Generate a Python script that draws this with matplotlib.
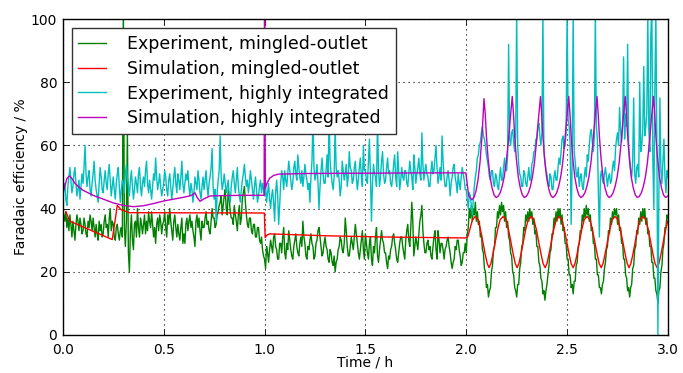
import numpy as np
import matplotlib
matplotlib.use("Agg")
import matplotlib.pyplot as plt

# experiment traces, sampled every 0.005 h from 0 to 3 h
exp_time = np.linspace(0.0, 3.0, 601)

exp_mingled = [
    40, 38, 36, 39, 34, 37, 33, 38, 35, 31, 36, 33, 30, 35, 38, 36, 33, 37, 35, 32,
    33, 37, 35, 32, 31, 36, 34, 38, 36, 33, 37, 34, 31, 35, 32, 30, 36, 33, 35, 31,
    32, 36, 38, 34, 35, 31, 37, 40, 33, 36, 35, 31, 30, 34, 35, 32, 30, 33, 34, 31,
    105, 34, 28, 36, 64, 26, 20, 33, 38, 30, 27, 35, 36, 31, 40, 34, 31, 37, 35, 32,
    35, 38, 32, 36, 33, 39, 36, 34, 39, 35, 31, 34, 29, 35, 37, 33, 38, 36, 32, 35,
    36, 39, 34, 31, 38, 35, 40, 36, 33, 30, 36, 38, 34, 31, 35, 32, 30, 34, 37, 29,
    32, 29, 35, 37, 33, 36, 38, 34, 36, 33, 31, 28, 36, 38, 34, 37, 33, 30, 36, 34,
    34, 37, 39, 35, 36, 33, 32, 36, 40, 37, 37, 34, 35, 38, 39, 41, 42, 44, 38, 41,
    44, 46, 40, 38, 46, 43, 39, 37, 37, 35, 41, 38, 36, 33, 38, 41, 35, 37, 43, 45,
    47, 42, 38, 35, 34, 37, 37, 33, 32, 35, 35, 31, 31, 34, 34, 30, 29, 31, 27, 25,
    24, 21, 28, 26, 23, 27, 30, 28, 26, 31, 32, 28, 27, 24, 24, 29, 29, 26, 31, 34,
    26, 24, 29, 27, 33, 30, 27, 25, 24, 28, 30, 32, 28, 26, 25, 29, 31, 28, 36, 31,
    29, 25, 24, 28, 27, 30, 32, 29, 28, 24, 25, 29, 30, 33, 34, 31, 28, 25, 26, 29,
    31, 28, 27, 24, 23, 27, 26, 23, 22, 25, 20, 23, 24, 27, 28, 31, 30, 27, 26, 29,
    37, 33, 28, 25, 25, 28, 31, 29, 27, 31, 35, 32, 29, 26, 24, 27, 30, 33, 27, 24,
    32, 29, 26, 24, 29, 31, 24, 22, 28, 26, 31, 34, 25, 23, 27, 30, 33, 30, 29, 26,
    26, 23, 21, 25, 24, 27, 28, 31, 32, 29, 27, 24, 23, 26, 29, 31, 31, 28, 26, 24,
    30, 33, 35, 30, 28, 34, 42, 36, 25, 28, 31, 29, 27, 32, 36, 38, 41, 33, 29, 26,
    26, 29, 30, 27, 28, 25, 24, 28, 31, 33, 27, 24, 33, 30, 26, 29, 29, 27, 24, 27,
    28, 30, 31, 28, 26, 23, 21, 23, 24, 28, 27, 30, 30, 27, 25, 22, 23, 26, 26, 29,
    26, 32, 34, 40, 37, 41, 36, 40, 38, 42, 36, 39, 35, 36, 31, 32, 27, 26, 21, 20,
    15, 16, 12, 14, 15, 20, 22, 27, 28, 34, 34, 39, 37, 41, 38, 42, 39, 41, 36, 39,
    34, 36, 31, 30, 26, 25, 20, 19, 15, 14, 12, 16, 16, 21, 23, 28, 29, 34, 33, 38,
    36, 39, 36, 40, 37, 39, 35, 37, 32, 33, 28, 28, 23, 22, 18, 17, 13, 14, 11, 14,
    16, 19, 22, 26, 27, 32, 32, 37, 35, 39, 36, 40, 37, 40, 35, 38, 33, 34, 29, 29,
    24, 24, 19, 19, 15, 16, 13, 17, 17, 22, 23, 28, 29, 33, 33, 38, 36, 40, 37, 41,
    38, 40, 36, 38, 33, 34, 29, 29, 24, 24, 19, 19, 15, 15, 13, 16, 17, 21, 23, 27,
    28, 33, 32, 37, 35, 39, 37, 40, 38, 40, 35, 38, 33, 34, 29, 29, 24, 24, 19, 18,
    14, 15, 12, 15, 16, 21, 22, 27, 28, 33, 32, 37, 35, 39, 36, 40, 37, 40, 35, 37,
    32, 33, 28, 28, 23, 23, 18, 18, 14, 13, 10, 14, 15, 20, 22, 27, 29, 34, 34, 38,
    37,
]

exp_integrated = [
    44, 46, 48, 43, 41, 47, 50, 53, 49, 45, 47, 51, 53, 48, 44, 46, 49, 43, 47, 51,
    48, 53, 60, 51, 47, 50, 52, 46, 44, 48, 51, 55, 49, 46, 44, 42, 48, 53, 50, 46,
    45, 49, 52, 48, 46, 51, 54, 49, 44, 47, 50, 46, 43, 48, 51, 53, 47, 42, 46, 49,
    48, 45, 51, 54, 50, 47, 44, 49, 52, 47, 43, 46, 50, 48, 45, 51, 53, 47, 44, 48,
    50, 47, 52, 55, 48, 45, 49, 46, 43, 47, 51, 49, 56, 50, 46, 48, 51, 47, 44, 46,
    48, 52, 50, 46, 44, 49, 51, 47, 43, 46, 50, 53, 48, 45, 51, 49, 46, 50, 55, 48,
    45, 48, 51, 49, 52, 47, 44, 48, 46, 42, 45, 50, 48, 46, 52, 49, 45, 43, 47, 50,
    46, 49, 52, 47, 44, 48, 50, 53, 59, 47, 43, 46, 36, 45, 49, 52, 63, 50, 46, 48,
    51, 48, 45, 47, 49, 44, 42, 47, 50, 52, 48, 45, 49, 53, 47, 44, 42, 46, 49, 51,
    54, 50, 47, 49, 45, 48, 52, 49, 46, 43, 47, 50, 46, 42, 44, 47, 49, 45, 48, 46,
    44, 47, 42, 45, 48, 43, 40, 44, 46, 42, 36, 45, 49, 44, 35, 41, 48, 52, 50, 46,
    52, 49, 47, 51, 55, 52, 49, 46, 48, 53, 55, 51, 49, 57, 53, 50, 48, 52, 47, 50,
    54, 51, 49, 46, 48, 42, 50, 55, 68, 53, 49, 51, 54, 48, 40, 47, 52, 56, 51, 48,
    48, 52, 57, 50, 70, 55, 51, 48, 46, 50, 66, 53, 50, 52, 49, 44, 47, 55, 52, 49,
    51, 54, 47, 50, 58, 53, 52, 48, 49, 53, 55, 50, 46, 49, 53, 56, 50, 47, 60, 52,
    52, 49, 48, 55, 62, 50, 36, 48, 54, 51, 50, 47, 68, 52, 47, 50, 55, 58, 51, 48,
    49, 53, 56, 51, 52, 48, 47, 50, 54, 57, 50, 47, 58, 52, 46, 49, 53, 50, 49, 52,
    52, 48, 47, 51, 55, 52, 50, 46, 57, 53, 48, 51, 53, 56, 51, 49, 64, 54, 49, 52,
    54, 51, 50, 47, 47, 52, 55, 51, 52, 56, 60, 53, 48, 50, 53, 49, 63, 55, 50, 47,
    47, 50, 52, 49, 44, 48, 50, 53, 54, 50, 48, 45, 51, 48, 46, 50, 53, 51, 49, 46,
    46, 43, 40, 45, 44, 41, 38, 43, 47, 50, 52, 56, 57, 60, 61, 64, 66, 63, 62, 60,
    57, 55, 53, 50, 49, 52, 52, 48, 47, 51, 50, 47, 46, 50, 53, 49, 49, 53, 56, 52,
    52, 57, 92, 62, 60, 64, 65, 61, 58, 63, 102, 60, 54, 51, 50, 47, 47, 52, 51, 48,
    47, 50, 53, 49, 49, 54, 55, 58, 58, 62, 62, 66, 67, 63, 60, 64, 102, 58, 55, 52,
    51, 48, 47, 51, 50, 46, 46, 50, 52, 49, 49, 53, 56, 54, 58, 62, 63, 59, 60, 64,
    102, 68, 66, 60, 35, 55, 102, 58, 55, 51, 50, 53, 47, 50, 51, 47, 46, 50, 53, 50,
    57, 55, 60, 64, 65, 61, 58, 63, 102, 66, 62, 45, 31, 50, 52, 49, 48, 51, 53, 50,
    47, 50, 51, 48, 49, 53, 55, 52, 59, 62, 64, 60, 72, 65, 61, 66, 88, 62, 70, 66,
    92, 60, 56, 52, 50, 55, 75, 51, 48, 53, 54, 50, 80, 58, 60, 65, 85, 63, 66, 70,
    102, 65, 58, 95, 104, 55, 40, 78, 102, 60, 0, 45, 75, 52, 48, 55, 62, 50, 45, 52,
    50,
]

# simulation, mingled-outlet
sim_mingled_t = [
    0.015, 0.035, 0.245, 0.270, 0.290, 0.330, 0.999, 1.003, 1.012, 1.025,
    1.300, 1.600, 1.998, 2.008, 2.018, 2.030, 2.044,
    2.058, 2.070, 2.082, 2.094, 2.104, 2.113, 2.122, 2.132, 2.144, 2.156, 2.168, 2.183,
    2.197, 2.209, 2.221, 2.233, 2.243, 2.252, 2.261, 2.271, 2.283, 2.295, 2.307, 2.321,
    2.335, 2.347, 2.359, 2.371, 2.381, 2.391, 2.400, 2.410, 2.422, 2.434, 2.446, 2.460,
    2.474, 2.486, 2.498, 2.510, 2.520, 2.530, 2.539, 2.549, 2.561, 2.573, 2.585, 2.599,
    2.613, 2.625, 2.637, 2.649, 2.659, 2.669, 2.678, 2.688, 2.700, 2.712, 2.724, 2.738,
    2.752, 2.764, 2.776, 2.788, 2.798, 2.807, 2.816, 2.826, 2.838, 2.850, 2.862, 2.876,
    2.890, 2.902, 2.914, 2.926, 2.936, 2.946, 2.955, 2.965, 2.977, 2.989, 3.000,
]
sim_mingled = [
    39.0, 36.0, 30.2, 41.0, 39.6, 38.7, 38.6, 30.8, 31.6, 32.0,
    31.4, 31.0, 30.7, 31.2, 33.5, 36.3, 37.5,
    36.5, 33.5, 29.5, 25.5, 22.6, 21.3, 22.6, 25.5, 29.5, 33.5, 36.5, 37.5,
    36.5, 33.5, 29.5, 25.5, 22.6, 21.3, 22.6, 25.5, 29.5, 33.5, 36.5, 37.5,
    36.5, 33.5, 29.5, 25.5, 22.6, 21.3, 22.6, 25.5, 29.5, 33.5, 36.5, 37.5,
    36.5, 33.5, 29.5, 25.5, 22.6, 21.3, 22.6, 25.5, 29.5, 33.5, 36.5, 37.5,
    36.5, 33.5, 29.5, 25.5, 22.6, 21.3, 22.6, 25.5, 29.5, 33.5, 36.5, 37.5,
    36.5, 33.5, 29.5, 25.5, 22.6, 21.3, 22.6, 25.5, 29.5, 33.5, 36.5, 37.5,
    36.5, 33.5, 29.5, 25.5, 22.6, 21.3, 22.6, 25.5, 29.5, 33.5, 36.3,
]

# simulation, highly integrated
sim_integrated_t = [
    0.000, 0.002, 0.010, 0.020, 0.030, 0.035, 0.045, 0.060, 0.080, 0.100,
    0.150, 0.200, 0.250, 0.300, 0.350, 0.400, 0.450, 0.500, 0.550, 0.600,
    0.640, 0.655, 0.665, 0.680, 0.700, 0.730, 0.800, 0.900, 0.998, 1.000,
    1.004, 1.012, 1.025, 1.045, 1.070, 1.200, 1.500, 1.800, 1.998, 2.006,
    2.012, 2.028, 2.038, 2.048, 2.058, 2.068, 2.078, 2.083, 2.088,
    2.094, 2.100, 2.108, 2.118, 2.128, 2.138, 2.148,
    2.158, 2.168, 2.178, 2.188, 2.198, 2.208, 2.218, 2.228,
    2.234, 2.240, 2.248, 2.258, 2.268, 2.278, 2.288,
    2.298, 2.308, 2.318, 2.328, 2.338, 2.348, 2.358, 2.368,
    2.374, 2.380, 2.388, 2.398, 2.408, 2.418, 2.428,
    2.438, 2.448, 2.458, 2.468, 2.478, 2.488, 2.498, 2.508,
    2.514, 2.520, 2.528, 2.538, 2.548, 2.558, 2.568,
    2.578, 2.588, 2.598, 2.608, 2.618, 2.628, 2.638, 2.648,
    2.654, 2.660, 2.668, 2.678, 2.688, 2.698, 2.708,
    2.718, 2.728, 2.738, 2.748, 2.758, 2.768, 2.778, 2.788,
    2.794, 2.800, 2.808, 2.818, 2.828, 2.838, 2.848,
    2.858, 2.868, 2.878, 2.888, 2.898, 2.908, 2.918, 2.928,
    2.934, 2.940, 2.948, 2.958, 2.968, 2.978, 2.988, 3.000,
]
sim_integrated = [
    140.0, 45.5, 47.0, 49.5, 50.2, 50.3, 49.5, 48.0, 46.8, 45.8,
    44.2, 43.0, 41.8, 41.0, 40.6, 40.9, 41.6, 42.4, 43.0, 43.6,
    44.2, 45.0, 43.6, 42.3, 43.1, 44.0, 44.1, 44.2, 44.2, 105.0,
    46.5, 48.0, 49.6, 50.5, 50.9, 51.1, 51.2, 51.3, 51.3, 47.0,
    44.0, 42.8, 43.5, 45.5, 49.0, 54.5, 63.0, 69.0, 74.8,
    70.0, 63.0, 56.0, 50.0, 46.5, 44.3, 43.5,
    43.9, 45.0, 47.0, 50.0, 54.5, 61.0, 68.5, 75.5,
    70.0, 63.0, 56.0, 50.0, 46.5, 44.3, 43.5,
    43.9, 45.0, 47.0, 50.0, 54.5, 61.0, 68.5, 75.5,
    70.0, 63.0, 56.0, 50.0, 46.5, 44.3, 43.5,
    43.9, 45.0, 47.0, 50.0, 54.5, 61.0, 68.5, 75.5,
    70.0, 63.0, 56.0, 50.0, 46.5, 44.3, 43.5,
    43.9, 45.0, 47.0, 50.0, 54.5, 61.0, 68.5, 75.5,
    70.0, 63.0, 56.0, 50.0, 46.5, 44.3, 43.5,
    43.9, 45.0, 47.0, 50.0, 54.5, 61.0, 68.5, 75.5,
    70.0, 63.0, 56.0, 50.0, 46.5, 44.3, 43.5,
    43.9, 45.0, 47.0, 50.0, 54.5, 61.0, 68.5, 75.5,
    70.0, 63.0, 56.0, 50.0, 46.5, 44.3, 43.5, 44.0,
]

GREEN = (0.0, 0.5, 0.0)
RED = (1.0, 0.0, 0.0)
CYAN = (0.0, 0.75, 0.75)
MAGENTA = (0.75, 0.0, 0.75)

fig = plt.figure(figsize=(6.83, 3.73), dpi=100, facecolor="white")
ax = fig.add_axes([0.092, 0.102, 0.886, 0.847])

ax.plot(exp_time, exp_mingled, color=GREEN, lw=1.0,
        label="Experiment, mingled-outlet")
ax.plot(sim_mingled_t, sim_mingled, color=RED, lw=1.0,
        label="Simulation, mingled-outlet")
ax.plot(exp_time, exp_integrated, color=CYAN, lw=1.0,
        label="Experiment, highly integrated")
ax.plot(sim_integrated_t, sim_integrated, color=MAGENTA, lw=1.0,
        label="Simulation, highly integrated")

ax.set_xlim(0, 3.0)
ax.set_ylim(0, 100)
xt = np.arange(0, 3.01, 0.5)
ax.set_xticks(xt)
ax.set_xticklabels([f"{v:.1f}" for v in xt])
ax.set_yticks(np.arange(0, 101, 20))
ax.tick_params(direction="in", top=True, right=True, length=4, width=0.6,
               labelsize=10)
ax.tick_params(axis="x", pad=5.5)
ax.tick_params(axis="y", pad=4)
ax.grid(True, color="k", linestyle=(0, (1, 3.5)), linewidth=0.8)
for sp in ax.spines.values():
    sp.set_linewidth(1.0)

ax.set_xlabel("Time / h", fontsize=10, labelpad=-1)
ax.set_ylabel("Faradaic efficiency / %", fontsize=10, labelpad=2)

leg = ax.legend(loc="upper left", fontsize=12.5, handlelength=1.6,
                handletextpad=1.2, borderpad=0.4, labelspacing=0.4,
                borderaxespad=0.5, fancybox=False, framealpha=1.0)
leg.get_frame().set_edgecolor("#333333")
leg.get_frame().set_linewidth(1.0)

fig.savefig("out.png", dpi=100, facecolor="white")
